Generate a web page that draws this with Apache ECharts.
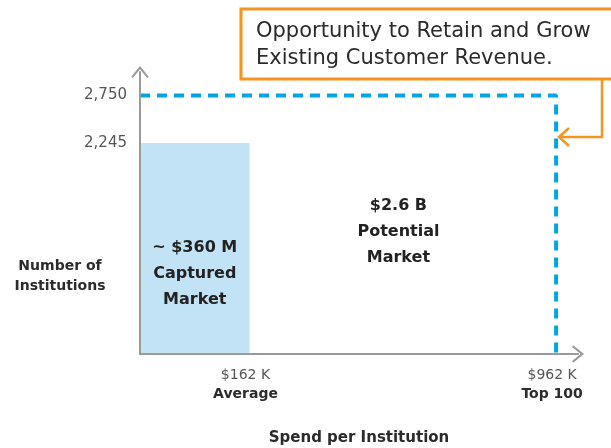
<!DOCTYPE html>
<html>
<head>
<meta charset="utf-8">
<script src="https://cdn.jsdelivr.net/npm/echarts@6/dist/echarts.min.js"></script>
<style>
    html, body { margin: 0; padding: 0; background: #fff; }
    #chart { width: 611px; height: 448px; }
</style>
</head>
<body>
<div id="chart"></div>
<script>
    // schematic spend positions on the x axis (not to scale in the original)
    const spendPos = [1, 3.8];
    const spendLabels = ['$162 K', '$962 K'];
    const spendNames = ['Average', 'Top 100'];
    // number of institutions
    const institutionTicks = [2245, 2750];
    const capturedCount = 2245;
    const totalCount = 2750;
    const capturedText = ['~ $360 M', 'Captured', 'Market'];
    const potentialText = ['$2.6 B', 'Potential', 'Market'];
    const noteLines = ['Opportunity to Retain and Grow', 'Existing Customer Revenue.'];

    const font = '"DejaVu Sans", sans-serif';
    const dark = '#2b2b2b';
    const orange = '#f7941d';
    // open chevron, points up; ECharts rotates it along the axis
    const chevron = 'path://M0,11 L9,0 L18,11 L16.3,12.3 L9,3.4 L1.7,12.3 Z';

    let chart = echarts.init(document.getElementById('chart'));

    let option = {
        animation: false,
        textStyle: { fontFamily: font },
        grid: { left: 140, right: 33, top: 72, bottom: 94, outerBoundsMode: 'none', containLabel: false },
        xAxis: {
            type: 'value',
            min: 0,
            max: 4,
            z: 10,
            splitLine: { show: false },
            axisTick: { show: false },
            axisLine: {
                lineStyle: { color: '#9a9a9a', width: 2 },
                symbol: ['none', chevron],
                symbolSize: [18, 12]
            },
            axisLabel: {
                customValues: spendPos,
                margin: 12,
                padding: [0, 8, 0, 0],
                formatter: (v) => {
                    let i = spendPos.indexOf(v);
                    return '{v|' + spendLabels[i] + '}\n{n|' + spendNames[i] + '}';
                },
                rich: {
                    v: { fontSize: 14, color: '#555', fontFamily: font, lineHeight: 19 },
                    n: { fontSize: 14, color: dark, fontWeight: 'bold', fontFamily: font, lineHeight: 19 }
                }
            },
            name: 'Spend per Institution',
            nameLocation: 'middle',
            nameGap: 77,
            nameTextStyle: { fontSize: 15, fontWeight: 'bold', color: dark }
        },
        yAxis: {
            type: 'value',
            min: 0,
            max: 3000,
            z: 10,
            splitLine: { show: false },
            axisTick: { show: false },
            axisLine: {
                show: true,
                lineStyle: { color: '#9a9a9a', width: 2 },
                symbol: ['none', chevron],
                symbolSize: [18, 12]
            },
            axisLabel: {
                customValues: institutionTicks,
                margin: 13,
                fontSize: 15,
                color: '#555',
                formatter: (v) => v.toLocaleString('en-US')
            }
        },
        series: [
            {
                // captured market block
                type: 'custom',
                renderItem: (params, api) => {
                    let p0 = api.coord([0, 0]);
                    let p1 = api.coord([api.value(0), api.value(1)]);
                    return {
                        type: 'rect',
                        shape: { x: p0[0], y: p1[1], width: p1[0] - p0[0], height: p0[1] - p1[1] },
                        style: { fill: '#c2e2f5' }
                    };
                },
                data: [[spendPos[0], capturedCount]],
                z: 1
            },
            {
                // potential market outline
                type: 'line',
                symbol: 'none',
                lineStyle: { color: '#00a6e3', width: 4, type: [10, 7], cap: 'butt' },
                data: [[0, totalCount], [spendPos[1], totalCount], [spendPos[1], 0]],
                z: 2
            },
            {
                type: 'scatter',
                symbolSize: 0,
                silent: true,
                itemStyle: { opacity: 1 },
                label: {
                    show: true,
                    position: 'inside',
                    formatter: (p) => p.data[2].join('\n'),
                    fontSize: 16,
                    fontWeight: 'bold',
                    lineHeight: 26,
                    color: '#222',
                    opacity: 1,
                    textBorderWidth: 0,
                    align: 'center'
                },
                data: [
                    [0.5, 850, capturedText],
                    [2.36, 1300, potentialText]
                ],
                z: 5
            }
        ],
        graphic: [
            {
                type: 'text',
                x: 60,
                y: 256,
                style: {
                    text: 'Number of\nInstitutions',
                    font: 'bold 14px ' + font,
                    fill: dark,
                    lineHeight: 20,
                    align: 'center'
                }
            },
            {
                type: 'rect',
                shape: { x: 241, y: 9, width: 420, height: 70 },
                style: { fill: '#fff', stroke: orange, lineWidth: 3 },
                z: 20
            },
            {
                type: 'text',
                x: 256,
                y: 18,
                style: {
                    text: noteLines.join('\n'),
                    font: '21px ' + font,
                    fill: dark,
                    lineHeight: 27
                },
                z: 21
            },
            {
                type: 'polyline',
                shape: { points: [[602, 80], [602, 137], [559, 137]] },
                style: { stroke: orange, lineWidth: 2.5, fill: null },
                z: 20
            },
            {
                type: 'polyline',
                shape: { points: [[569, 128], [559, 137], [569, 146]] },
                style: { stroke: orange, lineWidth: 2.5, fill: null },
                z: 20
            }
        ]
    };
    chart.setOption(option);
</script>
</body>
</html>
